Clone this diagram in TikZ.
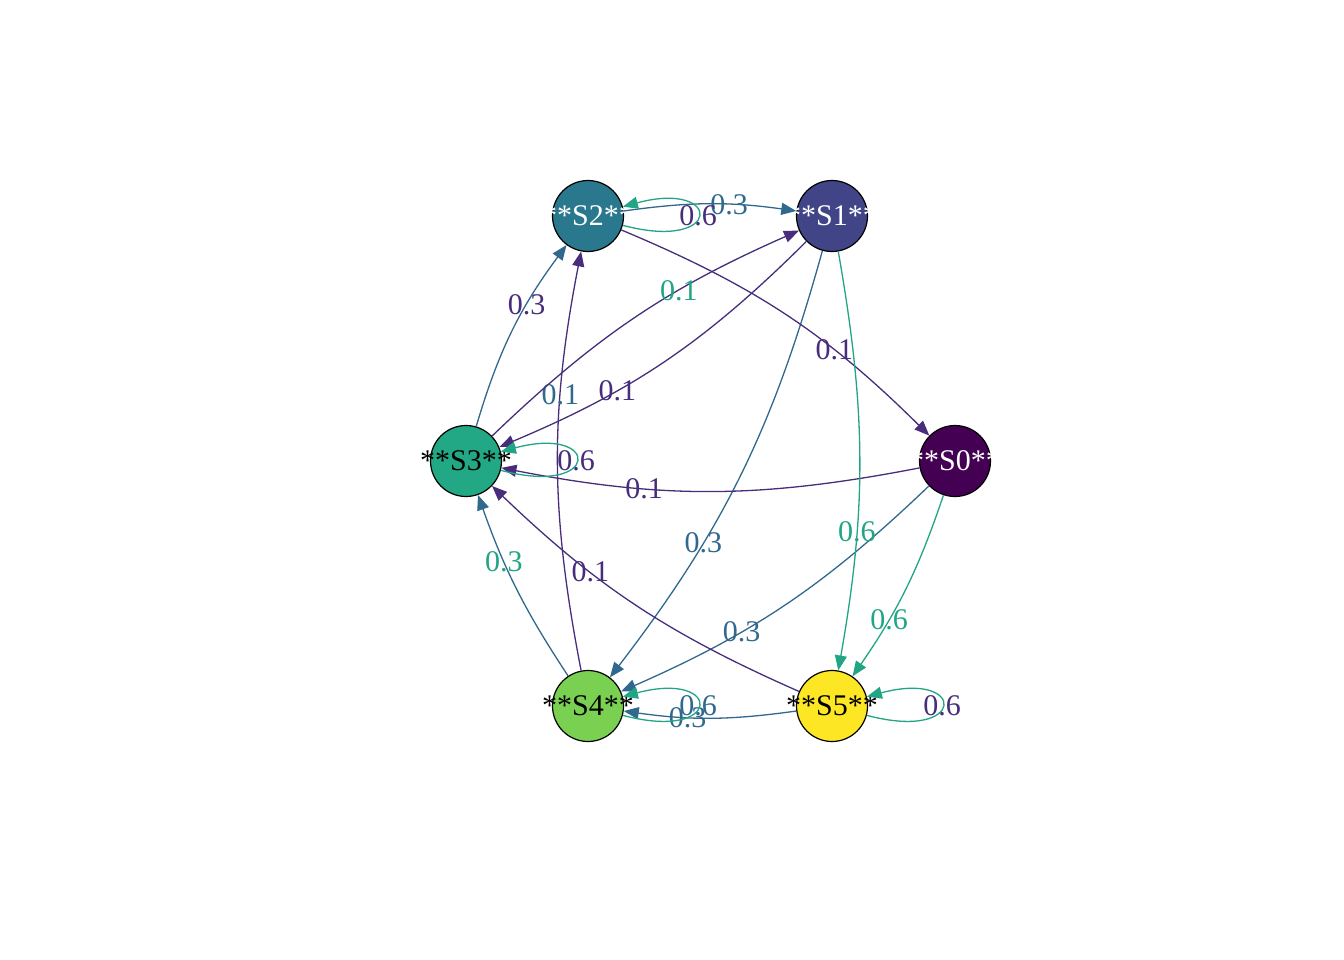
\documentclass[tikz,border=0pt]{standalone}
\usepackage{fontspec}
\setmainfont{Liberation Serif}
\usetikzlibrary{arrows.meta}
\definecolor{c0}{HTML}{440154}
\definecolor{c1}{HTML}{414487}
\definecolor{c2}{HTML}{2A788E}
\definecolor{c3}{HTML}{22A884}
\definecolor{c4}{HTML}{7AD151}
\definecolor{c5}{HTML}{FDE725}
\definecolor{epurple}{HTML}{472D7B}
\definecolor{eblue}{HTML}{31688E}
\definecolor{egreen}{HTML}{21A585}
\begin{document}
\begin{tikzpicture}
		[x=1pt, y=1pt,
		main/.style = {draw=black, circle, minimum size=71pt, inner sep=0pt, line width=1.2pt, font=\fontsize{30}{35}\selectfont},
		link/.style = {-{Triangle[length=15pt,width=12pt]}, line width=1.3pt},
		selfloop/.style = {link, out=-15, in=15, min distance=104pt},
		lab/.style = {inner sep=0pt, font=\fontsize{30}{35}\selectfont}]
	\useasboundingbox (0,0) rectangle (1344,-960);
	\node[main, fill=c0, text=white] (0) at (955,-461) {\makebox[0pt]{**S0**}};
	\node[main, fill=c1, text=white] (1) at (832,-216) {\makebox[0pt]{**S1**}};
	\node[main, fill=c2, text=white] (2) at (588,-216) {\makebox[0pt]{**S2**}};
	\node[main, fill=c3] (3) at (466,-461) {\makebox[0pt]{**S3**}};
	\node[main, fill=c4] (4) at (588,-706) {\makebox[0pt]{**S4**}};
	\node[main, fill=c5] (5) at (832,-706) {\makebox[0pt]{**S5**}};
	% weight 0.3
	\draw[link, eblue] (2) to[bend left=8] node[lab, pos=0.62, text=eblue] {0.3} (1);
	\draw[link, eblue] (3) to[bend left=10] node[lab, pos=0.66, text=epurple] {0.3} (2);
	\draw[link, eblue] (1) to[bend left=11] node[lab, pos=0.67, text=eblue] {0.3} (4);
	\draw[link, eblue] (0) to[bend left=10] node[lab, pos=0.65, text=eblue] {0.3} (4);
	\draw[link, eblue] (4) to[bend left=7] node[lab, pos=0.66, text=egreen] {0.3} (3);
	\draw[link, eblue] (5) to[bend left=8] node[lab, pos=0.64, text=eblue] {0.3} (4);
	% weight 0.1
	\draw[link, epurple] (2) to[bend left=11] node[lab, pos=0.67, text=epurple] {0.1} (0);
	\draw[link, epurple] (4) to[bend left=11] node[lab, pos=0.67, text=eblue] {0.1} (2);
	\draw[link, epurple] (3) to[bend left=10] node[lab, pos=0.65, text=egreen] {0.1} (1);
	\draw[link, epurple] (1) to[bend left=11] node[lab, pos=0.66, text=epurple] {0.1} (3);
	\draw[link, epurple] (0) to[bend left=11] node[lab, pos=0.67, text=epurple] {0.1} (3);
	\draw[link, epurple] (5) to[bend left=10] node[lab, pos=0.66, text=epurple] {0.1} (3);
	% weight 0.6
	\draw[link, egreen] (1) to[bend left=10] node[lab, pos=0.68, text=egreen] {0.6} (5);
	\draw[link, egreen] (0) to[bend left=8] node[lab, pos=0.68, text=egreen] {0.6} (5);
	\draw[selfloop, egreen] (2) to node[lab, pos=0.5, text=epurple] {0.6} (2);
	\draw[selfloop, egreen] (3) to node[lab, pos=0.5, text=epurple] {0.6} (3);
	\draw[selfloop, egreen] (4) to node[lab, pos=0.5, text=eblue] {0.6} (4);
	\draw[selfloop, egreen] (5) to node[lab, pos=0.5, text=epurple] {0.6} (5);
\end{tikzpicture}
\end{document}
